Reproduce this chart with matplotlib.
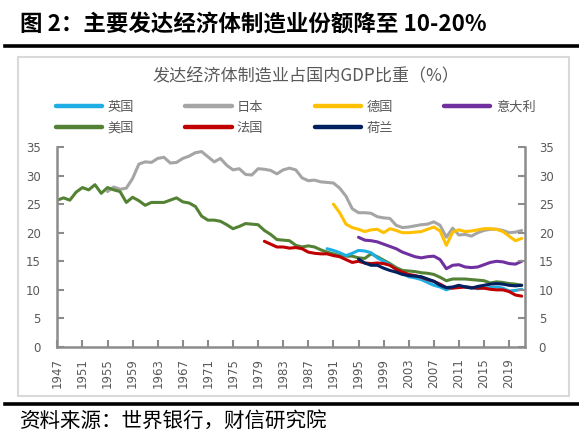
import numpy as np
import matplotlib
matplotlib.use("Agg")
import matplotlib.pyplot as plt
from matplotlib.lines import Line2D
from matplotlib.patches import Rectangle

plt.rcParams['font.family'] = ['Noto Sans CJK SC', 'DejaVu Sans']

years = np.arange(1947, 2022)

us = [25.7, 26.1, 25.7, 27.1, 27.9, 27.5, 28.4, 26.9, 27.9, 27.5,
      27.2, 25.3, 26.2, 25.6, 24.8, 25.3, 25.3, 25.3, 25.7, 26.1,
      25.4, 25.2, 24.6, 22.9, 22.2, 22.2, 22.0, 21.4, 20.7, 21.1,
      21.6, 21.5, 21.4, 20.4, 19.7, 18.8, 18.7, 18.6, 17.8, 17.5,
      17.7, 17.5, 17.0, 16.6, 16.3, 16.0, 15.9, 15.9, 15.6, 15.5,
      16.3, 15.8, 15.2, 14.6, 13.9, 13.4, 13.3, 13.2, 13.0, 12.9,
      12.7, 12.2, 11.6, 11.9, 11.9, 11.9, 11.8, 11.7, 11.6, 11.2,
      11.4, 11.3, 11.1, 11.0, 10.8]

japan_start = 1955
japan = [27.2, 28.0, 27.6, 27.8, 29.5, 32.0, 32.4, 32.3, 33.0, 33.2,
         32.2, 32.3, 33.0, 33.4, 34.0, 34.2, 33.3, 32.4, 33.0, 31.8,
         31.0, 31.2, 30.2, 30.1, 31.2, 31.1, 30.9, 30.3, 31.0, 31.3,
         31.0, 29.6, 29.1, 29.2, 28.9, 28.8, 28.7, 27.8, 26.4, 24.2,
         23.5, 23.5, 23.4, 22.8, 22.6, 22.5, 21.3, 20.9, 21.0, 21.2,
         21.4, 21.5, 21.9, 21.3, 19.2, 20.8, 19.6, 19.7, 19.4, 20.0,
         20.4, 20.6, 20.6, 20.4, 20.0, 20.1, 20.4]

france_start = 1980
france = [18.5, 18.0, 17.5, 17.5, 17.3, 17.4, 17.2, 16.6, 16.4, 16.3,
          16.3, 16.0, 15.8, 15.3, 14.8, 15.0, 14.7, 14.6, 14.7, 14.6,
          14.3, 13.6, 13.1, 12.7, 12.5, 12.2, 11.8, 11.5, 11.0, 10.4,
          10.3, 10.4, 10.5, 10.4, 10.3, 10.3, 10.1, 10.0, 10.0, 9.7,
          9.1, 8.9]

uk_start = 1990
uk = [17.2, 16.9, 16.5, 16.0, 16.4, 16.9, 16.8, 16.5, 15.6, 15.0,
      14.4, 13.6, 12.9, 12.3, 12.1, 11.8, 11.3, 10.8, 10.5, 10.0,
      10.4, 10.6, 10.6, 10.4, 10.2, 10.3, 10.4, 10.5, 10.3, 9.8,
      9.9, 10.1]

germany_start = 1991
germany = [25.0, 23.5, 21.5, 20.9, 20.6, 20.2, 20.5, 20.6, 20.0, 20.7,
           20.4, 20.0, 20.0, 20.1, 20.2, 20.6, 21.0, 20.3, 17.8, 20.1,
           20.5, 20.2, 20.3, 20.5, 20.7, 20.7, 20.6, 20.2, 19.4, 18.6,
           19.0]

italy_start = 1995
italy = [19.2, 18.7, 18.6, 18.4, 18.0, 17.6, 17.2, 16.6, 16.2, 15.8,
         15.6, 15.8, 15.9, 15.3, 13.7, 14.3, 14.4, 14.0, 13.9, 14.0,
         14.4, 14.8, 15.0, 14.9, 14.6, 14.5, 15.0]

nl_start = 1995
netherlands = [15.4, 14.7, 14.3, 14.3, 13.8, 13.4, 13.1, 12.7, 12.5, 12.4,
               12.3, 11.9, 11.5, 10.8, 10.4, 10.5, 10.8, 10.5, 10.3, 10.6,
               10.8, 11.0, 11.1, 11.0, 10.8, 10.7, 10.8]

xticks = list(range(1947, 2020, 4))
yticks = [0, 5, 10, 15, 20, 25, 30, 35]

c_uk = '#1FAEE3'
c_jp = '#A5A5A5'
c_de = '#FFC000'
c_it = '#7030A0'
c_us = '#548235'
c_fr = '#C00000'
c_nl = '#002060'
gray = '#595959'
axis_gray = '#8C8C8C'

W, H = 579, 438
fig = plt.figure(figsize=(W / 100, H / 100), dpi=100)

# header, rules, frame
fig.text(20 / W, 1 - 24 / H, '图 2：主要发达经济体制造业份额降至 10-20%',
         fontsize=16.2, fontweight='bold', color='black', va='center', ha='left')
fig.add_artist(Line2D([5 / W, 1], [1 - 46 / H] * 2, color='black', lw=2.6))
fig.add_artist(Rectangle((18 / W, 1 - 396 / H), 551 / W, 339 / H, fill=False,
                         edgecolor='#D9D9D9', lw=1.5))
fig.add_artist(Line2D([5 / W, 1], [1 - 404 / H] * 2, color='black', lw=2.6))
fig.text(20 / W, 1 - 421 / H, '资料来源：世界银行，财信研究院',
         fontsize=14.8, color='black', va='center', ha='left')

fig.text(306 / W, 1 - 76 / H, '发达经济体制造业占国内GDP比重（%）',
         fontsize=12.3, color=gray, va='center', ha='center')

ax = fig.add_axes([57.3 / W, (H - 347) / H, 467.5 / W, 200 / H])
lw = 2.2


def draw(start, vals, color, label):
    yrs = np.arange(start, start + len(vals))
    return ax.plot(yrs, vals, color=color, lw=lw, label=label,
                   solid_joinstyle='round', solid_capstyle='round')[0]


h_jp = draw(japan_start, japan, c_jp, '日本')
h_us = draw(1947, us, c_us, '美国')
h_de = draw(germany_start, germany, c_de, '德国')
h_it = draw(italy_start, italy, c_it, '意大利')
h_uk = draw(uk_start, uk, c_uk, '英国')
h_fr = draw(france_start, france, c_fr, '法国')
h_nl = draw(nl_start, netherlands, c_nl, '荷兰')

ax.set_xlim(1947, 2021.5)
ax.set_ylim(0, 35)
ax.set_xticks(xticks)
ax.set_xticklabels([str(y) for y in xticks], rotation=90, family='DejaVu Sans')
ax.set_yticks(yticks)
ax.tick_params(axis='x', direction='in', length=5, width=1.5, color=axis_gray,
               labelsize=8.5, labelcolor=gray, pad=8)
ax.tick_params(axis='y', direction='in', length=5, width=1.5, color=axis_gray,
               labelsize=8.5, labelcolor=gray, pad=12)
for lab in ax.get_yticklabels():
    lab.set_family('DejaVu Sans')
ax.spines['top'].set_visible(False)
ax.spines['right'].set_visible(False)
for s in ['left', 'bottom']:
    ax.spines[s].set_color(axis_gray)
    ax.spines[s].set_linewidth(1.8)

ax2 = ax.twinx()
ax2.set_ylim(0, 35)
ax2.set_yticks(yticks)
ax2.tick_params(axis='y', direction='in', length=5, width=1.5, color=axis_gray,
                labelsize=8.5, labelcolor=gray, pad=10)
for lab in ax2.get_yticklabels():
    lab.set_family('DejaVu Sans')
for s in ['top', 'left', 'bottom']:
    ax2.spines[s].set_visible(False)
ax2.spines['right'].set_color(axis_gray)
ax2.spines['right'].set_linewidth(1.8)

handles = [h_uk, h_us, h_jp, h_fr, h_de, h_nl, h_it]
leg = fig.legend(handles=handles, labels=[h.get_label() for h in handles],
                 loc='upper left', bbox_to_anchor=(56 / W, 1 - 101 / H),
                 ncol=4, frameon=False, fontsize=9.5, handlelength=3.5,
                 handletextpad=0.4, columnspacing=3.9, labelspacing=0.6,
                 borderpad=0, borderaxespad=0)
for t in leg.get_texts():
    t.set_color(gray)
for l in leg.get_lines():
    l.set_linewidth(3.2)

fig.savefig('out.png', dpi=100)
